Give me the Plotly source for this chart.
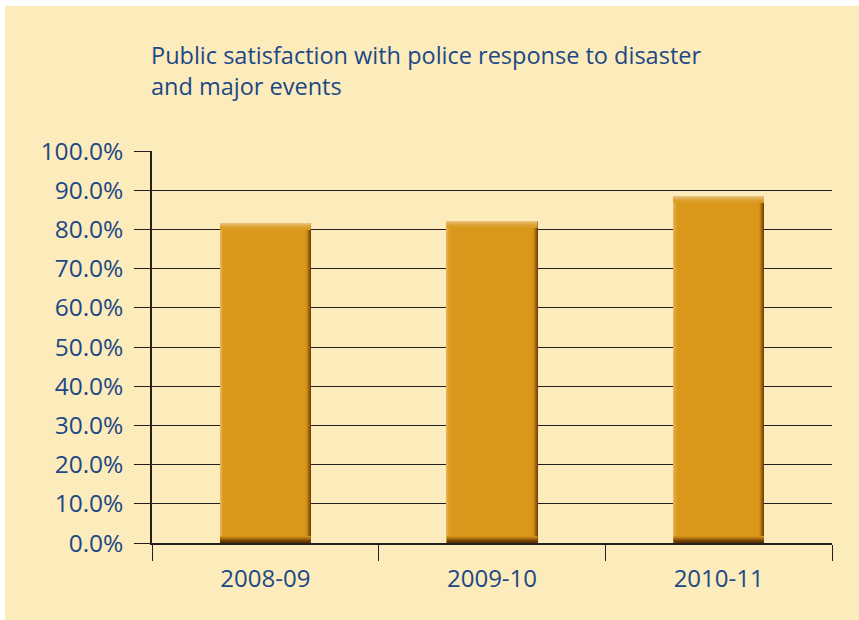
import plotly.graph_objects as go

# Survey results by financial year
years = ["2008-09", "2009-10", "2010-11"]
satisfaction = [81.5, 82.0, 88.3]
y_ticks = [0, 10, 20, 30, 40, 50, 60, 70, 80, 90, 100]
y_tick_labels = [f"{v:.1f}%" for v in y_ticks]

TEXT = "#1c4886"
INK = "#231f20"
GOLD = "#D9981A"
BAR_W = 0.4
FONT = "Open Sans, Liberation Sans, sans-serif"

# one screen pixel in axis units (x: category units, y: percent)
PX_X = 1 / 226.7
PX_Y = 100 / 392.3

fig = go.Figure()


def strip(y, base, width, offset, color):
    fig.add_trace(go.Bar(
        x=years, y=y, base=base, width=[width] * len(years),
        offset=offset, marker=dict(color=color, line=dict(width=0)),
        hoverinfo="skip", showlegend=False,
    ))


# main bar body
strip(satisfaction, None, BAR_W, -BAR_W / 2, GOLD)

# soft bevel: light left / top edges, dark right / bottom edges
left_shades = ["#E6B55C", "#E1AA42", "#DCA02C"]
for i, c in enumerate(left_shades):
    strip(satisfaction, None, PX_X, -BAR_W / 2 + i * PX_X, c)

right_shades = ["#774503", "#8C5607", "#A5690B", "#BE7E10", "#D0901A"]
for i, c in enumerate(right_shades):
    strip(satisfaction, None, PX_X, BAR_W / 2 - (i + 1) * PX_X, c)

top_shades = ["#EAC078", "#E7B864", "#E3AE50", "#DFA63E", "#DCA02E", "#DA9C24"]
for i, c in enumerate(top_shades):
    strip([PX_Y] * 3, [v - (i + 1) * PX_Y for v in satisfaction],
          BAR_W, -BAR_W / 2, c)

bottom_shades = ["#5A3200", "#673B01", "#7A4804", "#925A08", "#AA6D0C", "#C08112", "#D09018"]
for i, c in enumerate(bottom_shades):
    strip([PX_Y] * 3, [i * PX_Y] * 3, BAR_W, -BAR_W / 2, c)

fig.update_layout(
    width=859, height=620,
    barmode="overlay",
    paper_bgcolor="white",
    plot_bgcolor="rgba(0,0,0,0)",
    margin=dict(l=152, r=27, t=151, b=77),
    font=dict(family=FONT, color=TEXT),
    title=dict(
        text="Public satisfaction with police response to disaster<br>and major events",
        xref="container", yref="container",
        x=151 / 859, y=1 - 64 / 620,
        xanchor="left", yanchor="top",
        font=dict(family=FONT, size=23.5, color=TEXT),
    ),
    shapes=[dict(
        type="rect", xref="paper", yref="paper", layer="below",
        x0=-147 / 680, x1=1 + 27 / 680, y0=-77 / 392, y1=1 + 145 / 392,
        fillcolor="#FCEBBB", line=dict(width=0),
    )],
)

fig.update_xaxes(
    type="category",
    tickson="boundaries",
    ticks="outside", ticklen=16, tickwidth=1.3, tickcolor=INK,
    showline=True, linecolor=INK, linewidth=1.5,
    showgrid=False,
    tickfont=dict(size=24, color=TEXT),
    ticklabelstandoff=13,
)
fig.update_yaxes(
    range=[0, 100],
    tickvals=y_ticks, ticktext=y_tick_labels,
    ticks="outside", ticklen=16, tickwidth=1.3, tickcolor=INK,
    showline=True, linecolor=INK, linewidth=1.5,
    showgrid=True, gridcolor=INK, gridwidth=1.1,
    zeroline=False,
    tickfont=dict(size=24.5, color=TEXT),
    ticklabelstandoff=6,
)

fig.write_html("out.html")
